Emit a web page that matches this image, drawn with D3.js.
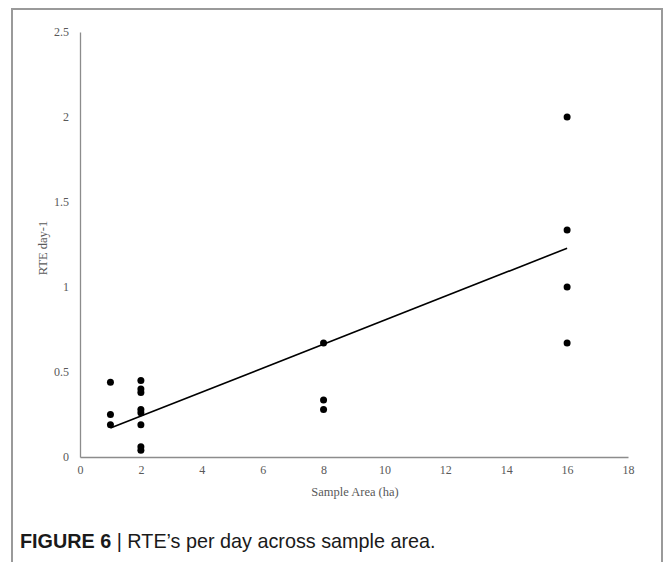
<!DOCTYPE html>
<html><head><meta charset="utf-8">
<script src="https://cdn.jsdelivr.net/npm/d3@7"></script>
<style>html,body{margin:0;padding:0;background:#fff;}</style>
</head><body>
<script>
// Data
const sampleArea = [1,1,1, 2,2,2,2,2,2,2,2, 8,8,8, 16,16,16,16];
const rtePerDay  = [0.44,0.25,0.19, 0.45,0.40,0.38,0.28,0.26,0.19,0.06,0.04, 0.67,0.335,0.28, 2.0,1.335,1.0,0.67];
const xTicks = [0,2,4,6,8,10,12,14,16,18];
const yTicks = [0,0.5,1,1.5,2,2.5];
const trendX = [1,16];
const trendY = [0.17,1.228];

const W=665,H=562;
const svg=d3.select("body").append("svg").attr("width",W).attr("height",H);

// frame
svg.append("path").attr("d",`M12,${H} L12,9 L662,9 L662,${H}`)
  .attr("fill","none").attr("stroke","#9a9a9a").attr("stroke-width",2);

const x=d3.scaleLinear().domain([0,18]).range([80,628]);
const y=d3.scaleLinear().domain([0,2.5]).range([457,32]);

const serif="'Liberation Serif','Times New Roman',serif";
const axCol="#8c8c8c", txtCol="#595959";

const xa=svg.append("g").attr("transform","translate(0,457)")
  .call(d3.axisBottom(x).tickValues(xTicks).tickSize(0).tickPadding(8).tickFormat(d3.format("")));
xa.select(".domain").attr("stroke",axCol).attr("stroke-width",1.3);
xa.selectAll("text").attr("font-family",serif).attr("font-size",12).attr("fill",txtCol);

const ya=svg.append("g").attr("transform","translate(80,0)")
  .call(d3.axisLeft(y).tickValues(yTicks).tickSize(0).tickPadding(11).tickFormat(d3.format("")));
ya.select(".domain").attr("stroke",axCol).attr("stroke-width",1.3);
ya.selectAll("text").attr("font-family",serif).attr("font-size",12).attr("fill",txtCol);

svg.append("text").attr("x",355).attr("y",496).attr("text-anchor","middle")
  .attr("font-family",serif).attr("font-size",12.5).attr("fill",txtCol).text("Sample Area (ha)");
svg.append("text").attr("transform","translate(47,248) rotate(-90)").attr("text-anchor","middle")
  .attr("font-family",serif).attr("font-size",12.5).attr("fill",txtCol).text("RTE day-1");

// trend line
svg.append("line")
  .attr("x1",x(trendX[0])).attr("y1",y(trendY[0]))
  .attr("x2",x(trendX[1])).attr("y2",y(trendY[1]))
  .attr("stroke","#000").attr("stroke-width",1.6);

// points
svg.append("g").selectAll("circle").data(sampleArea.map((d,i)=>[d,rtePerDay[i]]))
  .join("circle").attr("cx",d=>x(d[0])).attr("cy",d=>y(d[1])).attr("r",3.5).attr("fill","#000");

// caption
const cap=svg.append("text").attr("x",20).attr("y",548)
  .attr("font-family","'Liberation Sans',Arial,sans-serif").attr("font-size",19.8).attr("fill","#1a1a1a");
cap.append("tspan").attr("font-weight","bold").text("FIGURE 6");
cap.append("tspan").text(" | RTE\u2019s per day across sample area.");
</script>
</body></html>
